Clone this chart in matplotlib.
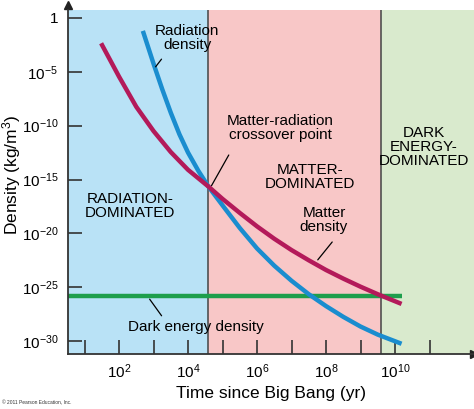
import numpy as np
import matplotlib.pyplot as plt

plt.rcParams['font.family'] = ['Liberation Sans', 'DejaVu Sans']
plt.rcParams['mathtext.fontset'] = 'custom'
plt.rcParams['mathtext.rm'] = 'Liberation Sans'
plt.rcParams['mathtext.it'] = 'Liberation Sans:italic'

# Valores (log10 de tiempo en años, log10 de densidad en kg/m^3)
matter_log_t = [1.48, 2.0, 2.5, 3.0, 3.5, 4.0, 4.59, 5.0, 5.5, 6.0, 6.5, 7.0, 7.5, 8.0, 8.5, 9.0, 9.5, 10.19]
matter_log_rho = [-2.35, -5.45, -8.25, -10.5, -12.45, -14.1, -15.65, -16.8, -18.1, -19.35, -20.5, -21.55,
                  -22.5, -23.4, -24.2, -24.95, -25.65, -26.55]

rad_log_t = [2.69, 3.0, 3.25, 3.5, 3.75, 4.0, 4.3, 4.59, 5.0, 5.5, 6.0, 6.5, 7.0, 7.5, 8.0, 8.5, 9.0, 9.5, 10.19]
rad_log_rho = [-1.2, -4.25, -6.6, -8.8, -10.8, -12.5, -14.2, -15.65, -17.4, -19.5, -21.4, -23.0, -24.4,
               -25.65, -26.75, -27.75, -28.65, -29.4, -30.25]

dark_log_t = [0.52, 10.19]
dark_log_rho = [-25.8, -25.8]

# Limites de las eras
era_bounds = [0.52, 4.59, 9.59, 12.29]
era_colors = ['#b9e2f6', '#f8c7c7', '#d9eacd']

xtick_exp = list(range(1, 12))
ytick_exp = [0, -5, -10, -15, -20, -25, -30]
ytick_labels = ['1'] + ['$10^{%d}$' % e for e in ytick_exp[1:]]

fig = plt.figure(figsize=(4.74, 4.09), dpi=100)
ax = fig.add_axes([68 / 474, 1 - 354 / 409, 1 - 68 / 474, (354 - 10) / 409])
ax.set_xscale('log')
ax.set_yscale('log')
ax.set_xlim(10 ** era_bounds[0], 10 ** era_bounds[-1])
ax.set_ylim(10 ** -31.2, 10 ** 0.74)

# Regiones sombreadas
for i in range(3):
    ax.axvspan(10 ** era_bounds[i], 10 ** era_bounds[i + 1], color=era_colors[i], lw=0, zorder=0)
for b in era_bounds[1:3]:
    ax.axvline(10 ** b, color='#444444', lw=1.1, zorder=1)

# Curvas
ax.plot(10 ** np.array(dark_log_t), 10 ** np.array(dark_log_rho), color='#1e9e4c', lw=3.2, zorder=2,
        solid_capstyle='butt')
ax.plot(10 ** np.array(rad_log_t), 10 ** np.array(rad_log_rho), color='#1a8dcf', lw=3.2, zorder=3,
        solid_capstyle='butt', solid_joinstyle='round')
ax.plot(10 ** np.array(matter_log_t), 10 ** np.array(matter_log_rho), color='#b31a5a', lw=3.2, zorder=4,
        solid_capstyle='butt', solid_joinstyle='round')

# Ejes
for s in ['top', 'right']:
    ax.spines[s].set_visible(False)
for s in ['left', 'bottom']:
    ax.spines[s].set_color('#333333')
    ax.spines[s].set_linewidth(1.3)
ax.plot(1, 0, '>', color='#222222', ms=6, transform=ax.transAxes, clip_on=False)
ax.plot(0, 1.015, '^', color='#222222', ms=6, transform=ax.transAxes, clip_on=False)

ax.set_xticks([10.0 ** e for e in xtick_exp])
ax.set_xticklabels(['$10^{%d}$' % e if e % 2 == 0 else '' for e in xtick_exp])
ax.set_yticks([10.0 ** e for e in ytick_exp])
ax.set_yticklabels(ytick_labels)
ax.minorticks_off()
ax.tick_params(direction='in', length=10, width=1.2, color='#333333', labelsize=11, pad=6)
ax.tick_params(axis='y', pad=7)

ax.set_xlabel('Time since Big Bang (yr)', fontsize=12.5, labelpad=4)
ax.set_ylabel('Density (kg/m$^3$)', fontsize=12.5)
ax.yaxis.set_label_coords(-0.11, 0.52)

# Textos
fs = 11
ax.text(10 ** 3.97, 10 ** -1.9, 'Radiation\ndensity', fontsize=fs, ha='center', va='center', linespacing=1.0)
ax.annotate('', xy=(10 ** 3.01, 10 ** -4.74), xytext=(10 ** 3.28, 10 ** -3.62),
            arrowprops=dict(arrowstyle='-', color='black', lw=0.9))
ax.text(10 ** 6.67, 10 ** -10.2, 'Matter-radiation\ncrossover point', fontsize=fs, ha='center', va='center',
        linespacing=1.0)
ax.annotate('', xy=(10 ** 4.64, 10 ** -15.8), xytext=(10 ** 5.22, 10 ** -12.5),
            arrowprops=dict(arrowstyle='-', color='black', lw=0.9))
ax.text(10 ** 7.54, 10 ** -14.76, 'MATTER-\nDOMINATED', fontsize=fs, ha='center', va='center', linespacing=1.0)
ax.text(10 ** 10.84, 10 ** -12.0, 'DARK\nENERGY-\nDOMINATED', fontsize=fs, ha='center', va='center',
        linespacing=1.0)
ax.text(10 ** 2.32, 10 ** -17.45, 'RADIATION-\nDOMINATED', fontsize=fs, ha='center', va='center',
        linespacing=1.0)
ax.text(10 ** 7.94, 10 ** -18.76, 'Matter\ndensity', fontsize=fs, ha='center', va='center', linespacing=1.0)
ax.annotate('', xy=(10 ** 7.71, 10 ** -22.66), xytext=(10 ** 8.23, 10 ** -20.6),
            arrowprops=dict(arrowstyle='-', color='black', lw=0.9))
ax.text(10 ** 2.26, 10 ** -28.7, 'Dark energy density', fontsize=fs, ha='left', va='center')
ax.annotate('', xy=(10 ** 2.84, 10 ** -25.9), xytext=(10 ** 3.28, 10 ** -27.86),
            arrowprops=dict(arrowstyle='-', color='black', lw=0.9))

fig.text(0.004, 0.012, '\u00a9 2011 Pearson Education, Inc.', fontsize=3.5, color='#333333')

fig.savefig('out.png', dpi=100)
